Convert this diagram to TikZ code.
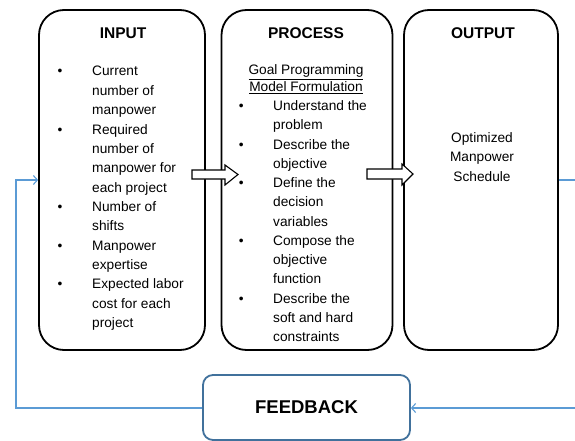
\documentclass[tikz,border=0pt]{standalone}
\usepackage{fontspec}
\setmainfont{Liberation Sans}
\usetikzlibrary{arrows.meta}
\definecolor{fbline}{HTML}{5B9BD5}
\definecolor{fbframe}{HTML}{41719C}
\begin{document}
\begin{tikzpicture}[x=1pt,y=-1pt,
  stage/.style={draw=black, line width=1.8pt, rounded corners=25pt, inner sep=0pt, minimum height=340pt},
  title/.style={anchor=base, inner sep=0pt, font=\fontsize{15.5}{18}\selectfont\bfseries},
  body/.style={anchor=base west, inner sep=0pt, font=\fontsize{13.7}{19.35}\selectfont},
  centred/.style={anchor=base, inner sep=0pt, font=\fontsize{13.7}{19.5}\selectfont},
  hollow/.style={draw=black, line width=1.1pt, fill=white, line join=miter},
  feed/.style={draw=fbline, line width=1.1pt},
  feedtip/.style={-{Straight Barb[length=4pt,width=9pt]}},
  fbbox/.style={draw=fbframe, line width=1.8pt, rounded corners=10pt, minimum width=207pt, minimum height=65pt, inner sep=0pt, font=\fontsize{18.5}{22}\selectfont\bfseries}]
\useasboundingbox (0,0) rectangle (575,441);
\clip (0,0) rectangle (575,441);

% the three stages
\node[stage, minimum width=166pt] (input) at (122,180) {};
\node[stage, minimum width=171pt] (process) at (307,180) {};
\node[stage, minimum width=154pt] (output) at (481,180) {};

\node[title] (tin) at (123,38.5) {INPUT};
\node[title] (tpr) at (306,38.5) {PROCESS};
\node[title] (tout) at (483,38.5) {OUTPUT};

% input items
\node[body] (inlist) at (57.5,76) {\begin{tabular}[t]{@{}p{34.5pt}@{}l@{}}
\textbullet & Current\\
 & number of\\
 & manpower\\
\textbullet & Required\\
 & number of\\
 & manpower for\\
 & each project\\
\textbullet & Number of\\
 & shifts\\
\textbullet & Manpower\\
 & expertise\\
\textbullet & Expected labor\\
 & cost for each\\
 & project
\end{tabular}};

% process steps
\node[anchor=base, inner sep=0pt, font=\fontsize{13.7}{17.5}\selectfont] (prhead) at (306,74.5)
 {\begin{tabular}[t]{@{}c@{}}\underline{Goal Programming}\\ \underline{Model Formulation}\end{tabular}};
\node[body, font=\fontsize{13.7}{19.25}\selectfont] (prlist) at (238.7,110.5) {\begin{tabular}[t]{@{}p{34.3pt}@{}l@{}}
\textbullet & Understand the\\
 & problem\\
\textbullet & Describe the\\
 & objective\\
\textbullet & Define the\\
 & decision\\
 & variables\\
\textbullet & Compose the\\
 & objective\\
 & function\\
\textbullet & Describe the\\
 & soft and hard\\
 & constraints
\end{tabular}};

% output
\node[centred] (outtext) at (482,142.5)
 {\begin{tabular}[t]{@{}c@{}}Optimized\\ Manpower\\ Schedule\end{tabular}};

% hollow block arrows between stages
\draw[hollow] (192,170) -- (225,170) -- (225,165) -- (238,174.5) -- (225,185) -- (225,179) -- (192,179) -- cycle;
\draw[hollow] (367,169) -- (402,169) -- (402,164) -- (413,174) -- (402,185) -- (402,179) -- (367,179) -- cycle;

% feedback loop
\node[fbbox] (feedback) at (306.5,407.5) {FEEDBACK};
\coordinate (rtop) at (585,180);
\coordinate (rbot) at (585,408);
\coordinate (lbot) at (16,408);
\coordinate (ltop) at (16,180);
\draw[feed] (output.east |- rtop) -- (rtop) -- (rbot);
\draw[feed, feedtip] (rbot) -- (feedback.east |- rbot);
\draw[feed, feedtip] (feedback.west |- lbot) -- (lbot) -- (ltop) -- (input.west |- ltop);
\end{tikzpicture}
\end{document}
